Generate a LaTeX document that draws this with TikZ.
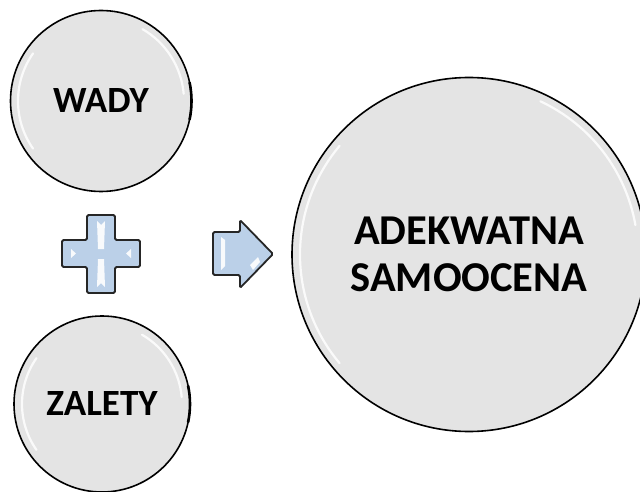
\documentclass[tikz,border=0pt]{standalone}
\usepackage{fontspec}
\setmainfont{Carlito}
\definecolor{ballgray}{HTML}{E4E4E4}
\definecolor{signblue}{HTML}{BBD0E8}
\tikzset{
    ball/.style = {circle, draw = black, line width = 1.6pt, fill = ballgray,
        font = \fontsize{37}{46}\selectfont\bfseries, align = center, inner sep = 0pt},
    bigball/.style = {ball, font = \fontsize{42.5}{47}\selectfont\bfseries},
    gloss/.style = {white, line width = 2.2pt, opacity = 0.85, line cap = round},
    sign/.style = {draw = black!85, line width = 1.8pt, fill = signblue, rounded corners = 1.5pt},
    shine/.style = {fill = white, opacity = 0.9}
}
\begin{document}
\begin{tikzpicture}[x = 1pt, y = -1pt]
        \useasboundingbox (0, 0) rectangle (640, 492);
        % the three balls
        \node [ball, minimum size = 181pt] (wady) at (101, 101) {WADY};
        \node [ball, minimum size = 176pt] (zalety) at (102, 404) {ZALETY};
        \node [bigball, minimum size = 354pt] (samoocena) at (469, 254.5) {ADEKWATNA\\SAMOOCENA};
        % glossy rims
        \draw [gloss] ([shift = {(wady.center)}] 145:83) arc (145:215:83);
        \draw [gloss] ([shift = {(wady.center)}] -60:83) arc (-60:-5:83);
        \draw [gloss] ([shift = {(zalety.center)}] 145:80) arc (145:215:80);
        \draw [gloss] ([shift = {(zalety.center)}] -60:80) arc (-60:-5:80);
        \draw [gloss] ([shift = {(samoocena.center)}] 140:169) arc (140:220:169);
        \draw [gloss] ([shift = {(samoocena.center)}] -65:169) arc (-65:-10:169);
        \draw [black, line width = 2.6pt] ([shift = {(wady.center)}] -12:90.5) arc (-12:12:90.5);
        \draw [black, line width = 2.6pt] ([shift = {(zalety.center)}] -12:88) arc (-12:12:88);
        % plus
        \draw [sign] (87, 215) -- (115, 215) -- (115, 240) -- (140, 240) -- (140, 267)
            -- (115, 267) -- (115, 293) -- (87, 293) -- (87, 267) -- (62, 267)
            -- (62, 240) -- (87, 240) -- cycle;
        \fill [shine] (97, 221) -- (101, 225) -- (105, 221) -- (104, 249) -- (98, 249) -- cycle;
        \fill [shine] (98, 259) -- (104, 259) -- (105, 287) -- (101, 283) -- (97, 287) -- cycle;
        \fill [shine] (71, 249) -- (76, 253.5) -- (71, 258) -- cycle;
        \fill [shine] (131, 249) -- (126, 253.5) -- (131, 258) -- cycle;
        % arrow
        \draw [sign] (213, 232) -- (240, 232) -- (240, 220) -- (273, 254) -- (240, 288)
            -- (240, 275) -- (213, 275) -- cycle;
        \fill [shine] (221, 237) -- (225, 240) -- (225, 266) -- (221, 270) -- cycle;
        \fill [shine] (250, 265) -- (258, 257) -- (260, 262) -- (253, 270) -- cycle;
\end{tikzpicture}
\end{document}
